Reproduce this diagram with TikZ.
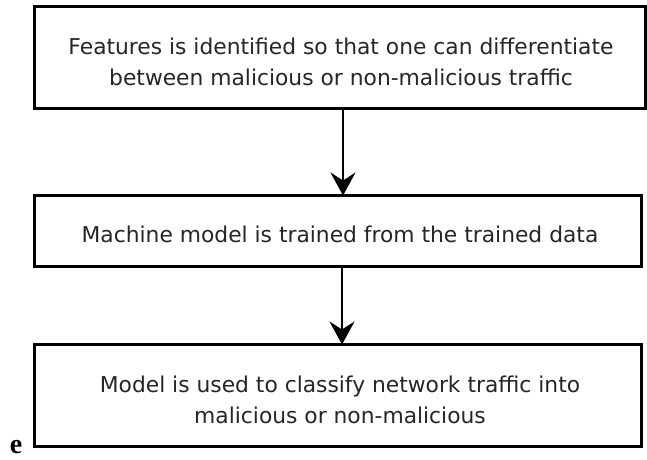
\documentclass[tikz,border=0pt]{standalone}
\usepackage{fontspec}
\setmainfont{DejaVu Sans}
\newfontfamily\serifbold{Liberation Serif}
\usetikzlibrary{arrows.meta}
\begin{document}
\begin{tikzpicture}[x=1pt,y=-1pt,
  stagebox/.style={draw=black, line width=3pt, fill=white},
  stagetext/.style={font=\fontsize{21.8}{30.5}\selectfont, text=black!85, align=center},
  flow/.style={line width=2.2pt, -{Stealth[length=23pt,width=25pt,inset=8pt]}}]
  \useasboundingbox (0,0) rectangle (647,459);
  % three stages of the pipeline
  \draw[stagebox] (34.5,6.5) rectangle (645,108.5);
  \draw[stagebox] (34.5,195.5) rectangle (641,266.5);
  \draw[stagebox] (34.5,344.5) rectangle (641,446.5);
  \node[stagetext] (feat) at (341,62) {Features is identified so that one can differentiate\\between malicious or non-malicious traffic};
  \node[stagetext] (train) at (340,234) {Machine model is trained from the trained data};
  \node[stagetext] (classify) at (340,400) {Model is used to classify network traffic into\\malicious or non-malicious};
  \coordinate (b1) at (343,108.5);
  \coordinate (t2) at (343,195.5);
  \coordinate (b2) at (342,266.5);
  \coordinate (t3) at (342,344.5);
  \draw[flow] (b1) -- (t2);
  \draw[flow] (b2) -- (t3);
  \node[font=\serifbold\bfseries\fontsize{28}{28}\selectfont, anchor=base, inner sep=0pt] (lbl) at (16,453) {e};
\end{tikzpicture}
\end{document}
